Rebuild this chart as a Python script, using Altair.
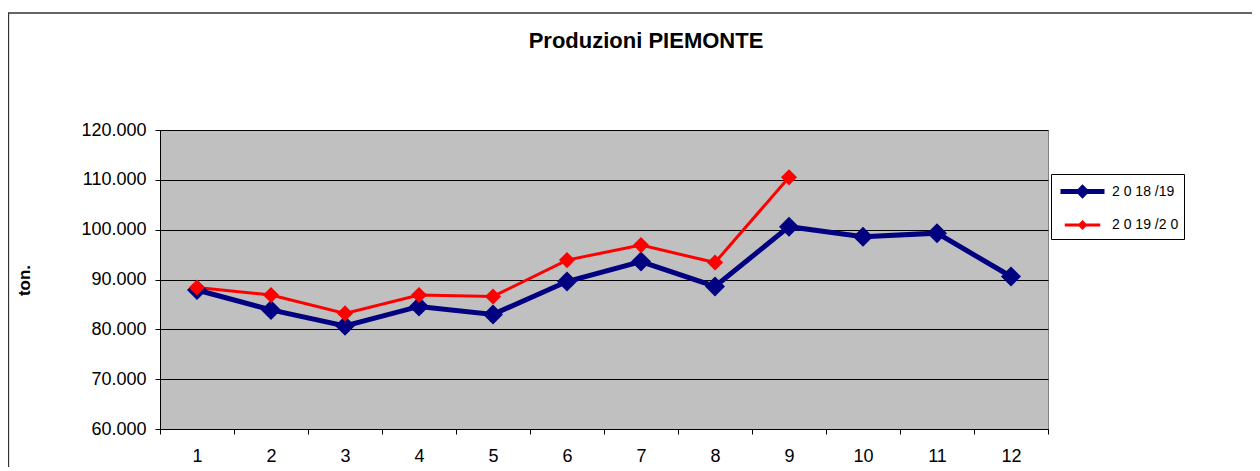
import altair as alt
import pandas as pd

months = list(range(1, 13))
series_names = ["2018/19", "2019/20"]
legend_labels = ["2 0 18 /19", "2 0 19 /2 0"]
values_1819 = [87900, 83900, 80700, 84600, 83000, 89600, 93600, 88600, 100600, 98600, 99300, 90600]
values_1920 = [88400, 86900, 83200, 86900, 86600, 93900, 96900, 93400, 110500]
y_ticks = [60000, 70000, 80000, 90000, 100000, 110000, 120000]
colors = ["#000080", "#FF0000"]
line_widths = [5, 3]
marker_sizes = [400, 260]

rows = []
for m, v in zip(months, values_1819):
    rows.append({"mese": m, "serie": series_names[0], "ton": v})
for m, v in zip(months, values_1920):
    rows.append({"mese": m, "serie": series_names[1], "ton": v})
df = pd.DataFrame(rows)

FONT = "Liberation Sans, Arial, sans-serif"

x_enc = alt.X(
    "mese:O", sort=months, bandPosition=0.5,
    scale=alt.Scale(type="band", paddingInner=0, paddingOuter=0),
    axis=alt.Axis(title=None, tickBand="extent", labelAngle=0, labelFontSize=18,
                  labelFont=FONT, labelColor="black", labelPadding=13, tickSize=5,
                  tickColor="black", domainColor="black", grid=False),
)
y_enc = alt.Y(
    "ton:Q",
    scale=alt.Scale(domain=[60000, 120000], nice=False, zero=False),
    axis=alt.Axis(values=y_ticks, title="ton.", titleFont=FONT, titleFontSize=17,
                  titleFontWeight="bold", titleColor="black", titleAngle=270,
                  titleX=-136, titleY=150, titleAlign="center", titleBaseline="middle",
                  labelExpr="replace(format(datum.value, ',d'), ',', '.')",
                  labelFont=FONT, labelFontSize=18, labelColor="black", labelPadding=9,
                  tickSize=5, tickColor="black", domainColor="black",
                  grid=True, gridColor="black", gridWidth=1),
)
label_expr = (
    f"datum.label == '{series_names[0]}' ? '{legend_labels[0]}' : '{legend_labels[1]}'"
)
color_enc = alt.Color(
    "serie:N",
    scale=alt.Scale(domain=series_names, range=colors),
    legend=alt.Legend(
        title=None, orient="none", legendX=891, legendY=44,
        symbolType="M-2.2,0H2.2M-0.36,0L0,-0.36L0.36,0L0,0.36Z",
        symbolSize=400, symbolStrokeWidth=4, symbolOffset=14,
        labelFont=FONT, labelFontSize=14, labelColor="black", labelOffset=17,
        labelExpr=label_expr, padding=5, rowPadding=9,
        strokeColor="black", fillColor="white",
    ),
)

base = alt.Chart(df)
lines = base.mark_line().encode(
    x=x_enc, y=y_enc, color=color_enc,
    strokeWidth=alt.StrokeWidth("serie:N", scale=alt.Scale(type="ordinal", domain=series_names, range=line_widths), legend=None),
)
points = base.mark_point(shape="diamond", filled=True, opacity=1).encode(
    x=x_enc, y=y_enc, color=color_enc,
    size=alt.Size("serie:N", scale=alt.Scale(type="ordinal", domain=series_names, range=marker_sizes), legend=None),
)
frame = alt.Chart(alt.Data(values=[{}])).mark_rect(
    fillOpacity=0, stroke="#333333", strokeWidth=1.3
).encode(x=alt.value(-151.5), x2=alt.value(1150), y=alt.value(-117), y2=alt.value(500))

chart = alt.layer(frame, lines, points).properties(
    width=888, height=299,
    autosize=alt.AutoSizeParams(type="none"),
    padding={"left": 152, "top": 122, "right": 204, "bottom": 38},
    title=alt.TitleParams("Produzioni PIEMONTE", font=FONT, fontSize=22, fontWeight="bold",
                          color="black", anchor="middle", baseline="alphabetic",
                          offset=0, dx=42, dy=58),
).configure(
    background="white",
    view=alt.ViewConfig(fill="#C0C0C0", stroke="#808080", strokeWidth=1),
)

chart.save("out.html", embed_options={"renderer": "svg", "actions": False})
